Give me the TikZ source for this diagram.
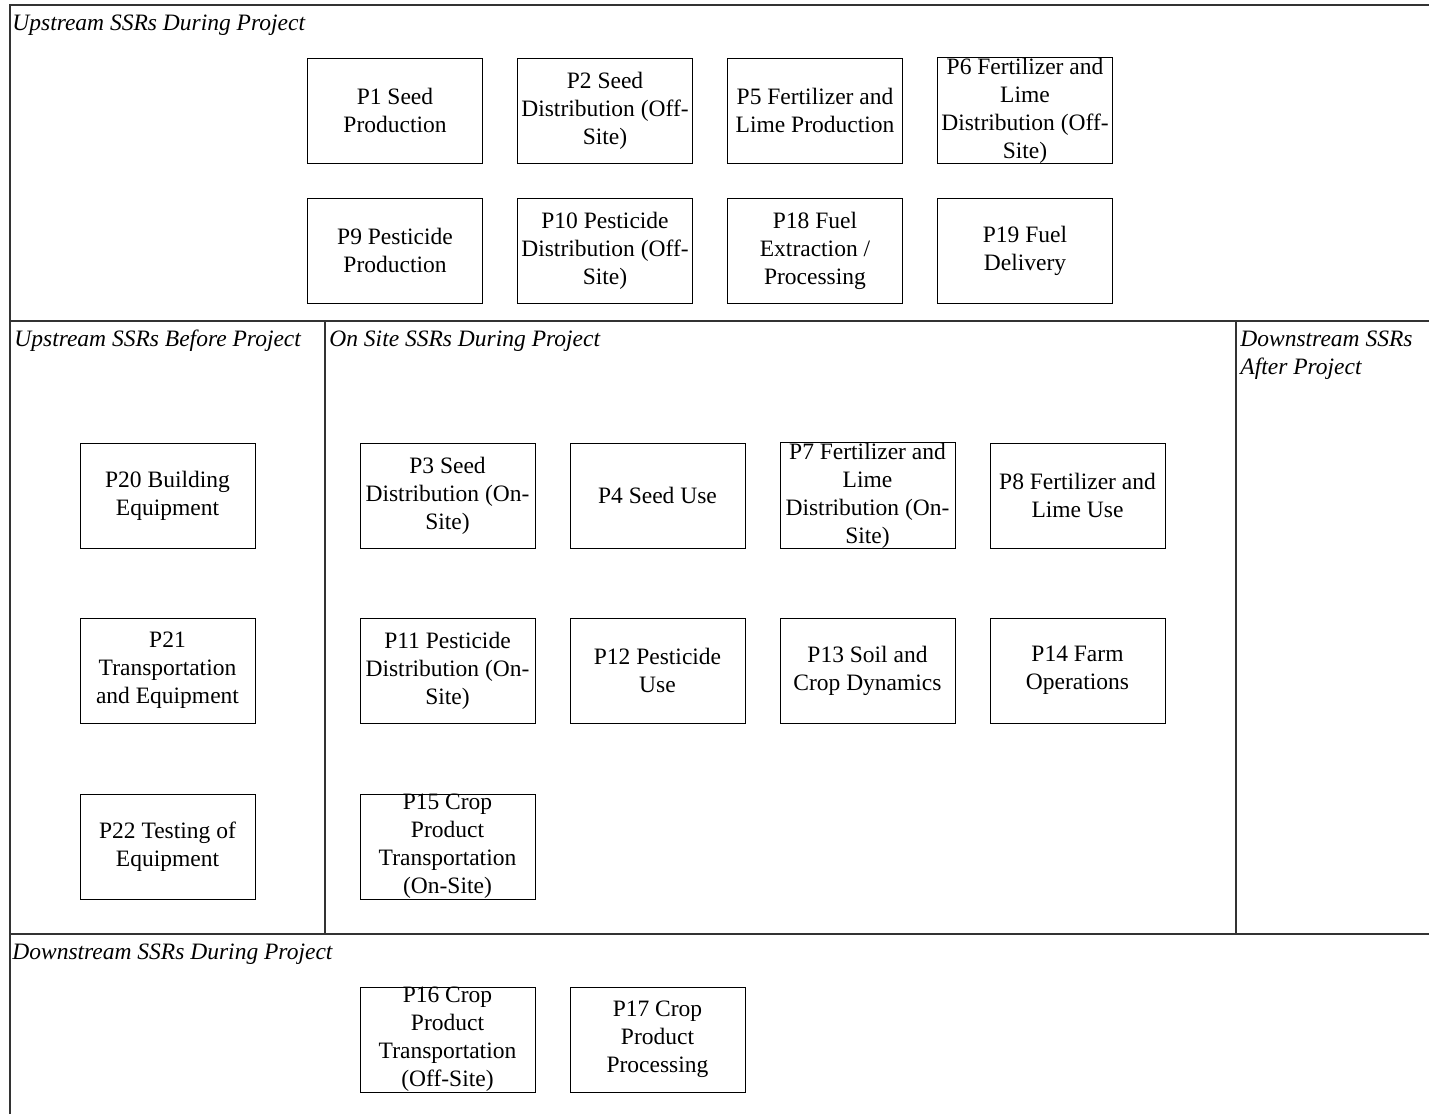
\documentclass[tikz,border=0pt]{standalone}
\usepackage{fontspec}
\setmainfont{Liberation Serif}
\begin{document}
\begin{tikzpicture}[x=0.5pt,y=-0.5pt,
  frameline/.style={line width=1pt,draw=black!80},
  box/.style={draw=black,line width=0.5pt,minimum width=87.5pt,minimum height=52.5pt,inner sep=0pt,align=center,font=\fontsize{11.75}{14}\selectfont},
  header/.style={anchor=base west,inner sep=0pt,align=left,font=\fontsize{11.75}{14}\selectfont\itshape}]
\useasboundingbox (0,0) rectangle (1429,1114);
% frame
\draw[frameline] (10,1114) -- (10,5) -- (1429,5);
\draw[frameline] (10,321) -- (1429,321);
\draw[frameline] (10,934) -- (1429,934);
\draw[frameline] (325,321) -- (325,934);
\draw[frameline] (1236,321) -- (1236,934);
% headers
\node[header] (h1) at (12,30) {Upstream SSRs During Project};
\node[header] (h2) at (14,346) {Upstream SSRs Before Project};
\node[header] (h3) at (329,346) {On Site SSRs During Project};
\node[header] (h4) at (1240,374) {Downstream SSRs\\After Project};
\node[header] (h5) at (12,959) {Downstream SSRs During Project};
% upstream during
\node[box] (p1) at (395,110.5) {P1 Seed\\Production};
\node[box] (p2) at (605,110.5) {P2 Seed\\Distribution (Off-\\Site)};
\node[box] (p5) at (815,110.5) {P5 Fertilizer and\\Lime Production};
\node[box] (p6) at (1025,110.5) {P6 Fertilizer and\\Lime\\Distribution (Off-\\Site)};
\node[box] (p9) at (395,250.5) {P9 Pesticide\\Production};
\node[box] (p10) at (605,250.5) {P10 Pesticide\\Distribution (Off-\\Site)};
\node[box] (p18) at (815,250.5) {P18 Fuel\\Extraction /\\Processing};
\node[box] (p19) at (1025,250.5) {P19 Fuel\\Delivery};
% upstream before
\node[box] (p20) at (167.5,495.5) {P20 Building\\Equipment};
\node[box] (p21) at (167.5,670.5) {P21\\Transportation\\and Equipment};
\node[box] (p22) at (167.5,846.5) {P22 Testing of\\Equipment};
% on site
\node[box] (p3) at (447.5,495.5) {P3 Seed\\Distribution (On-\\Site)};
\node[box] (p4) at (657.5,495.5) {P4 Seed Use};
\node[box] (p7) at (867.5,495.5) {P7 Fertilizer and\\Lime\\Distribution (On-\\Site)};
\node[box] (p8) at (1077.5,495.5) {P8 Fertilizer and\\Lime Use};
\node[box] (p11) at (447.5,670.5) {P11 Pesticide\\Distribution (On-\\Site)};
\node[box] (p12) at (657.5,670.5) {P12 Pesticide\\Use};
\node[box] (p13) at (867.5,670.5) {P13 Soil and\\Crop Dynamics};
\node[box] (p14) at (1077.5,670.5) {P14 Farm\\Operations};
\node[box] (p15) at (447.5,846.5) {P15 Crop\\Product\\Transportation\\(On-Site)};
% downstream during
\node[box] (p16) at (447.5,1039.5) {P16 Crop\\Product\\Transportation\\(Off-Site)};
\node[box] (p17) at (657.5,1039.5) {P17 Crop\\Product\\Processing};
\end{tikzpicture}
\end{document}
